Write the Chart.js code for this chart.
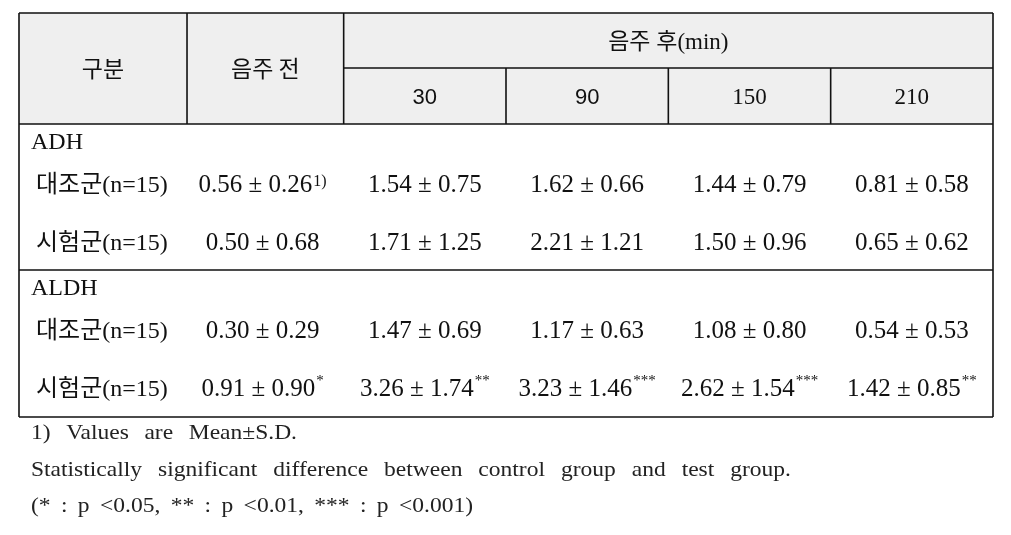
<!DOCTYPE html>
<html>
<head>
<meta charset="utf-8">
<script src="https://cdn.jsdelivr.net/npm/chart.js@4.4.1/dist/chart.umd.min.js"></script>
<style>
    html, body { margin: 0; padding: 0; background: #ffffff; }
    #wrap { width: 1011px; height: 535px; }
</style>
</head>
<body>
<div id="wrap"><canvas id="tabela" width="1011" height="535"></canvas></div>
<script>
const headerStub = "구분";
const headerBefore = "음주 전";
const headerAfter = "음주 후(min)";
const timePoints = ["30", "90", "150", "210"];
const groupNames = ["ADH", "ALDH"];
const rowLabels = ["대조군(n=15)", "시험군(n=15)"];

const adhControlMean = [0.56, 1.54, 1.62, 1.44, 0.81];
const adhControlSd = [0.26, 0.75, 0.66, 0.79, 0.58];
const adhControlMark = ["1)", "", "", "", ""];
const adhTestMean = [0.5, 1.71, 2.21, 1.5, 0.65];
const adhTestSd = [0.68, 1.25, 1.21, 0.96, 0.62];
const adhTestMark = ["", "", "", "", ""];

const aldhControlMean = [0.3, 1.47, 1.17, 1.08, 0.54];
const aldhControlSd = [0.29, 0.69, 0.63, 0.8, 0.53];
const aldhControlMark = ["", "", "", "", ""];
const aldhTestMean = [0.91, 3.26, 3.23, 2.62, 1.42];
const aldhTestSd = [0.9, 1.74, 1.46, 1.54, 0.85];
const aldhTestMark = ["*", "**", "***", "***", "**"];

const footnotes = [
    "1) Values are Mean±S.D.",
    "Statistically significant difference between control group and test group.",
    "(* : p <0.05, ** : p <0.01, *** : p <0.001)",
];

// layout: x in column units, y in table units (top of table = 0)
const layout = {
    colEdges: [-0.5, 0.535, 1.5, 2.5, 3.5, 4.5, 5.5],
    headerSplit: 55,
    headerBottom: 111,
    sectionBottom: [257, 404],
    groupOffset: 17,
    rowOffset: [59, 117],
    footWidths: [266, 760, 442],
};

const serif = "'Liberation Serif', 'Noto Sans CJK KR', serif";
const sans = "'Noto Sans CJK KR', 'Liberation Sans', sans-serif";
const ink = "#111111";

const bodyRows = [
    { mean: adhControlMean, sd: adhControlSd, mark: adhControlMark, section: 0, row: 0 },
    { mean: adhTestMean, sd: adhTestSd, mark: adhTestMark, section: 0, row: 1 },
    { mean: aldhControlMean, sd: aldhControlSd, mark: aldhControlMark, section: 1, row: 0 },
    { mean: aldhTestMean, sd: aldhTestSd, mark: aldhTestMark, section: 1, row: 1 },
];

function sectionTop(s) {
    return s === 0 ? layout.headerBottom : layout.sectionBottom[0];
}

function drawCell(ctx, cx, cy, mean, sd, mark) {
    const size = 25;
    const a = mean.toFixed(2);
    const b = sd.toFixed(2);
    const markFont = mark.indexOf("*") >= 0 ? "15px " + serif : "16px " + serif;
    ctx.font = size + "px " + serif;
    const wa = ctx.measureText(a).width;
    const wb = ctx.measureText(b).width;
    const pmW = size * 1.05;
    ctx.font = markFont;
    const wm = mark ? ctx.measureText(mark).width + 1 : 0;
    let x = cx - (wa + pmW + wb + wm) / 2;
    const base = cy + size * 0.34;

    ctx.textAlign = "left";
    ctx.textBaseline = "alphabetic";
    ctx.font = size + "px " + serif;
    ctx.fillText(a, x, base);
    x += wa;
    ctx.textAlign = "center";
    ctx.fillText("±", x + pmW / 2, base);
    x += pmW;
    ctx.textAlign = "left";
    ctx.fillText(b, x, base);
    x += wb;
    if (mark) {
        ctx.font = markFont;
        const raise = mark.indexOf("*") >= 0 ? 11 : 6;
        ctx.fillText(mark, x + 1, base - raise);
    }
}

// words spread over a given width, glyphs stretched a little
function drawJustified(ctx, text, x, y, width, stretch) {
    const words = text.split(" ");
    const widths = words.map((w) => ctx.measureText(w).width * stretch);
    const total = widths.reduce((s, w) => s + w, 0);
    const gap = words.length > 1 ? (width - total) / (words.length - 1) : 0;
    let px = x;
    words.forEach((w, i) => {
        ctx.save();
        ctx.translate(px, y);
        ctx.scale(stretch, 1);
        ctx.fillText(w, 0, 0);
        ctx.restore();
        px += widths[i] + gap;
    });
}

const tablePlugin = {
    id: "tablePlugin",
    beforeDatasetsDraw(chart) {
        const ctx = chart.ctx;
        const sx = chart.scales.x;
        const sy = chart.scales.y;
        const e = layout.colEdges;
        const left = sx.getPixelForValue(e[0]);
        const right = sx.getPixelForValue(e[e.length - 1]);
        const top = sy.getPixelForValue(0);
        const hb = sy.getPixelForValue(layout.headerBottom);
        const hs = sy.getPixelForValue(layout.headerSplit);

        ctx.save();
        ctx.fillStyle = "#efefef";
        ctx.fillRect(left, top, right - left, hb - top);

        ctx.strokeStyle = ink;
        ctx.lineWidth = 1.6;
        ctx.beginPath();
        const line = (x1, y1, x2, y2) => {
            ctx.moveTo(x1, y1);
            ctx.lineTo(x2, y2);
        };
        line(left, top, right, top);
        line(sx.getPixelForValue(e[2]), hs, right, hs);
        line(left, hb, right, hb);
        layout.sectionBottom.forEach((v) => {
            const y = sy.getPixelForValue(v);
            line(left, y, right, y);
        });
        const bottom = sy.getPixelForValue(layout.sectionBottom[1]);
        line(left, top, left, bottom);
        line(right, top, right, bottom);
        line(sx.getPixelForValue(e[1]), top, sx.getPixelForValue(e[1]), hb);
        line(sx.getPixelForValue(e[2]), top, sx.getPixelForValue(e[2]), hb);
        for (let i = 3; i < e.length - 1; i++) {
            const x = sx.getPixelForValue(e[i]);
            line(x, hs, x, hb);
        }
        ctx.stroke();

        // header texts
        ctx.fillStyle = ink;
        ctx.textAlign = "center";
        ctx.textBaseline = "alphabetic";
        const mid = (a, b) => (a + b) / 2;
        const hsize = 23;
        const hOff = hsize * 0.36;
        ctx.font = hsize + "px " + sans;
        ctx.fillText(headerStub, mid(left, sx.getPixelForValue(e[1])), mid(top, hb) + hOff);
        ctx.fillText(headerBefore, mid(sx.getPixelForValue(e[1]), sx.getPixelForValue(e[2])), mid(top, hb) + hOff);
        ctx.font = hsize + "px " + serif;
        ctx.fillText(headerAfter, mid(sx.getPixelForValue(e[2]), right), mid(top, hs) + hOff);
        timePoints.forEach((t, i) => {
            const cx = mid(sx.getPixelForValue(e[i + 2]), sx.getPixelForValue(e[i + 3]));
            ctx.font = (t.length < 3 ? "22px 'Liberation Sans', sans-serif" : "23px " + serif);
            ctx.fillText(t, cx, mid(hs, hb) + 8);
        });

        // group and row labels
        ctx.textAlign = "left";
        ctx.font = "24px " + serif;
        groupNames.forEach((g, s) => {
            ctx.fillText(g, left + 12, sy.getPixelForValue(sectionTop(s) + layout.groupOffset) + 8);
        });
        bodyRows.forEach((r) => {
            const y = sy.getPixelForValue(sectionTop(r.section) + layout.rowOffset[r.row]);
            ctx.font = "24px " + serif;
            ctx.fillText(rowLabels[r.row], left + 17, y + 8.5);
        });
        ctx.restore();
    },
    afterDatasetsDraw(chart) {
        const ctx = chart.ctx;
        ctx.save();
        ctx.fillStyle = ink;
        bodyRows.forEach((r, d) => {
            const meta = chart.getDatasetMeta(d);
            meta.data.forEach((pt, i) => {
                drawCell(ctx, pt.x, pt.y, r.mean[i], r.sd[i], r.mark[i]);
            });
        });

        // footnotes below the table
        const left = chart.scales.x.getPixelForValue(layout.colEdges[0]) + 12;
        let y = chart.chartArea.bottom + 22;
        ctx.fillStyle = "#222222";
        ctx.font = "21px " + serif;
        ctx.textAlign = "left";
        ctx.textBaseline = "alphabetic";
        footnotes.forEach((f, i) => {
            drawJustified(ctx, f, left, y, layout.footWidths[i], 1.12);
            y += 36.5;
        });
        ctx.restore();
    },
};

new Chart(document.getElementById("tabela").getContext("2d"), {
    type: "scatter",
    data: {
        datasets: bodyRows.map((r) => ({
            data: r.mean.map((m, i) => ({
                x: i + 1,
                y: sectionTop(r.section) + layout.rowOffset[r.row],
            })),
            pointRadius: 0,
            showLine: false,
        })),
    },
    options: {
        responsive: false,
        animation: false,
        devicePixelRatio: 1,
        events: [],
        layout: { padding: { left: 19, right: 18, top: 13, bottom: 118 } },
        scales: {
            x: { type: "linear", min: -0.5, max: 5.5, display: false },
            y: { type: "linear", min: 0, max: 404, reverse: true, display: false },
        },
        plugins: {
            legend: { display: false },
            tooltip: { enabled: false },
        },
    },
    plugins: [tablePlugin],
});
</script>
</body>
</html>
